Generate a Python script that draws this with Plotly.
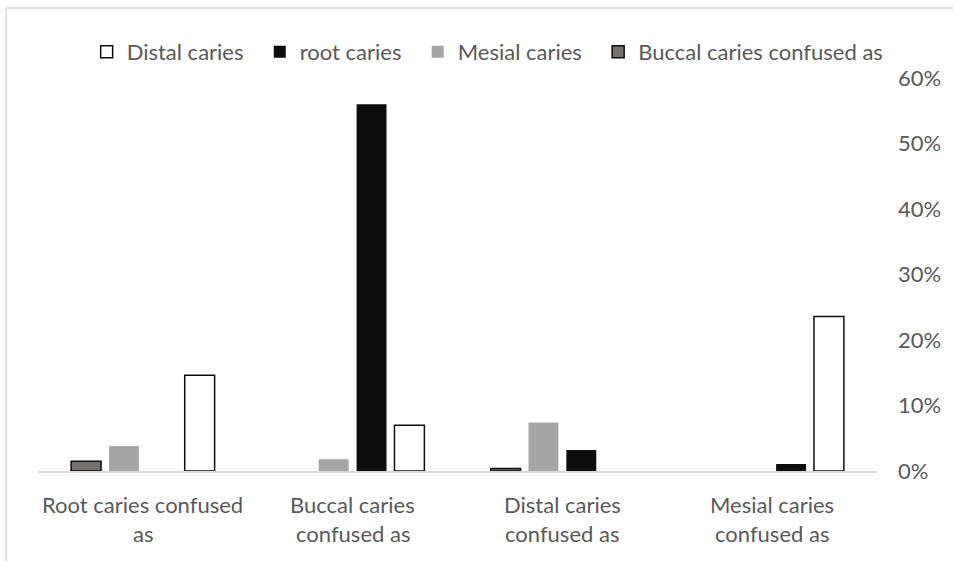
import plotly.graph_objects as go

# Category labels, split into the two lines drawn under each group
categories = ["Root caries confused as", "Buccal caries confused as",
              "Distal caries confused as", "Mesial caries confused as"]
label_line1 = ["Root caries confused", "Buccal caries", "Distal caries", "Mesial caries"]
label_line2 = ["as", "confused as", "confused as", "confused as"]

# Share of cases (fraction) per series; None = no bar
buccal = [0.015, None, 0.004, None]
mesial = [0.038, 0.018, 0.074, None]
root = [None, 0.560, 0.032, 0.0107]
distal = [0.146, 0.070, None, 0.236]

series_names = ["Buccal caries confused as", "Mesial caries", "root caries", "Distal caries"]

FONT = "Lato"
TXT = "#595959"
FS = 22
W, H = 953, 561
L, R, T, B = 38, 73, 78, 90
PAD = "\u00a0\u00a0"  # extra room after each legend entry

fig = go.Figure()
styles = [
    dict(color="#767171", line=dict(color="#0d0d0d", width=1.5)),
    dict(color="#a5a5a5", line=dict(color="#a5a5a5", width=0)),
    dict(color="#0d0d0d", line=dict(color="#0d0d0d", width=0)),
    dict(color="#ffffff", line=dict(color="#0d0d0d", width=1.5)),
]
for name, vals, st in zip(series_names, [buccal, mesial, root, distal], styles):
    fig.add_trace(go.Bar(x=categories, y=vals, name=name + PAD, marker=st))

# two-line category labels under each group
for cat, l1, l2 in zip(categories, label_line1, label_line2):
    fig.add_annotation(x=cat, xref="x", y=0, yref="paper", yanchor="middle",
                       yshift=-33, text=l1, showarrow=False,
                       font=dict(family=FONT, size=FS, color=TXT))
    fig.add_annotation(x=cat, xref="x", y=0, yref="paper", yanchor="middle",
                       yshift=-62, text=l2, showarrow=False,
                       font=dict(family=FONT, size=FS, color=TXT))

plot_w = W - L - R
plot_h = H - T - B
# chart-area border (left and top edges)
bx = (6 - L) / plot_w
by = (H - B - 8) / plot_h
fig.add_shape(type="line", xref="paper", yref="paper", x0=bx, x1=bx, y0=-0.5, y1=by,
              line=dict(color="#d9d9d9", width=1.5))
fig.add_shape(type="line", xref="paper", yref="paper", x0=bx, x1=1.2, y0=by, y1=by,
              line=dict(color="#d9d9d9", width=1.5))

fig.update_layout(
    width=W, height=H,
    margin=dict(l=L, r=R, t=T, b=B),
    paper_bgcolor="white", plot_bgcolor="white",
    barmode="group", bargap=0.278, bargroupgap=0.21,
    font=dict(family=FONT, size=FS, color=TXT),
    showlegend=True,
    legend=dict(orientation="h", traceorder="reversed", x=0.058, xanchor="left",
                y=(H - B - 52) / plot_h, yanchor="middle",
                font=dict(family=FONT, size=FS, color=TXT),
                bgcolor="rgba(0,0,0,0)"),
    xaxis=dict(showticklabels=False, showline=True, linecolor="#d9d9d9", linewidth=1.5,
               ticks="", showgrid=False, zeroline=False),
    yaxis=dict(side="right", range=[0, 0.6], tickvals=[0, 0.1, 0.2, 0.3, 0.4, 0.5, 0.6],
               tickformat=".0%", showgrid=False, zeroline=False, showline=False,
               ticks="", ticklabelstandoff=20,
               tickfont=dict(family=FONT, size=FS, color=TXT)),
)

fig.write_html("out.html")
